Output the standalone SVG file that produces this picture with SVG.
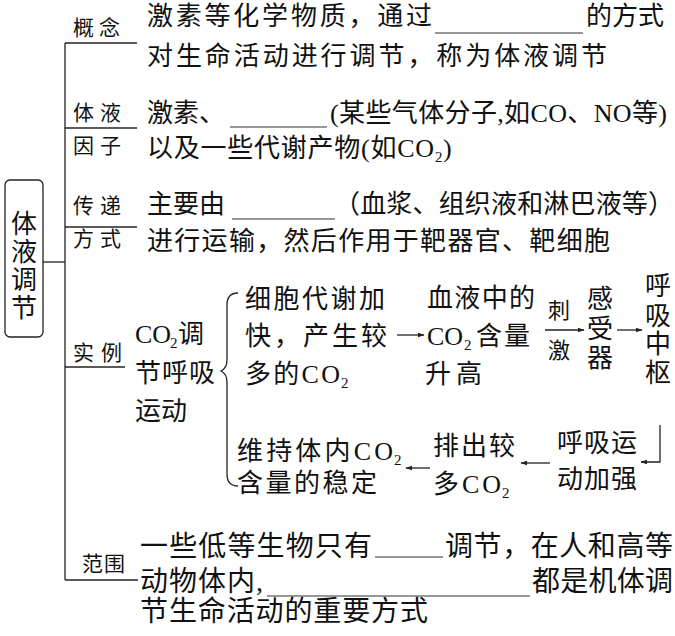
<svg xmlns="http://www.w3.org/2000/svg" width="675" height="636" viewBox="0 0 675 636">
<defs>
<style>
text{font-family:"Liberation Serif","Noto Sans CJK SC",serif;fill:#111;}
.m{font-size:26px;}
.b{font-size:28px;}
.l{font-size:21px;}
.s{font-size:15px;}
.t{font-size:26px;text-anchor:middle;}
.k{font-size:22px;}
.ln{stroke:#222;stroke-width:1.3;fill:none;}
.ar{stroke:#222;stroke-width:1.3;fill:none;marker-end:url(#ah);}
.ul{stroke:#333;stroke-width:1.2;}
</style>
<marker id="ah" viewBox="0 0 10 10" refX="9" refY="5" markerWidth="7" markerHeight="7" markerUnits="userSpaceOnUse" orient="auto">
<path d="M0,1.5 L10,5 L0,8.5 Z" fill="#222"/>
</marker>
</defs>
<rect width="675" height="636" fill="#fff"/>

<g id="connectors">
<rect x="5" y="180" width="38" height="157" rx="5" class="ln"/>
<line x1="43" y1="262" x2="65" y2="262" class="ln"/>
<line x1="65" y1="43" x2="65" y2="580" class="ln"/>
<line x1="65" y1="43" x2="137" y2="43" class="ln"/>
<line x1="65" y1="128" x2="137" y2="128" class="ln"/>
<line x1="65" y1="227" x2="137" y2="227" class="ln"/>
<line x1="65" y1="367" x2="125" y2="367" class="ln"/>
<line x1="65" y1="580" x2="138" y2="580" class="ln"/>
<path d="M238 293 C230 293 227 297 227 305 L227 360 C227 366 225 369 221 371 C225 373 227 376 227 382 L227 474 C227 482 230 486 238 486" class="ln"/>
<line x1="397" y1="335" x2="424" y2="335" class="ar"/>
<line x1="545" y1="330" x2="584" y2="330" class="ar"/>
<line x1="617" y1="330" x2="642" y2="330" class="ar"/>
<line x1="430" y1="468" x2="406" y2="468" class="ar"/>
<line x1="550" y1="463" x2="521" y2="463" class="ar"/>
<polyline points="660,425 660,462 641,462" class="ar"/>
</g>

<g id="root">
<text class="t" x="24" y="233">体</text>
<text class="t" x="24" y="261">液</text>
<text class="t" x="24" y="289">调</text>
<text class="t" x="24" y="317">节</text>
</g>

<g id="gainian">
<text class="l" x="73" y="35" textLength="47">概念</text>
<text class="m" x="147" y="25" textLength="285">激素等化学物质，通过</text>
<line x1="435" y1="33" x2="583" y2="33" class="ul"/>
<text class="m" x="586" y="25">的方式</text>
<text class="m" x="147" y="65" textLength="460">对生命活动进行调节，称为体液调节</text>
</g>

<g id="yinzi">
<text class="l" x="73" y="120" textLength="48">体液</text>
<text class="l" x="73" y="153" textLength="48">因子</text>
<text class="m" x="147" y="122">激素、</text>
<line x1="230" y1="127" x2="327" y2="127" class="ul"/>
<text class="m" x="330" y="122" textLength="337">(某些气体分子,如CO、NO等)</text>
<text class="m" x="147" y="157" textLength="287">以及一些代谢产物(如CO</text>
<text class="s" x="435" y="162">2</text>
<text class="m" x="443" y="157">)</text>
</g>

<g id="chuandi">
<text class="l" x="73" y="213" textLength="48">传递</text>
<text class="l" x="73" y="246" textLength="48">方式</text>
<text class="m" x="147" y="213">主要由</text>
<line x1="232" y1="219" x2="335" y2="219" class="ul"/>
<text class="m" x="334" y="213" textLength="340">（血浆、组织液和淋巴液等）</text>
<text class="m" x="147" y="250" textLength="463">进行运输，然后作用于靶器官、靶细胞</text>
</g>

<g id="shili">
<text class="l" x="73" y="360" textLength="49">实例</text>
<text class="m" x="135" y="343">CO</text>
<text class="s" x="170" y="348">2</text>
<text class="m" x="178" y="343">调</text>
<text class="m" x="135" y="382" textLength="80">节呼吸</text>
<text class="m" x="135" y="420">运动</text>
</g>

<g id="step1">
<text class="m" x="245" y="308" textLength="140">细胞代谢加</text>
<text class="m" x="245" y="345" textLength="142">快，产生较</text>
<text class="m" x="245" y="383" textLength="95">多的CO</text>
<text class="s" x="341" y="388">2</text>
</g>

<g id="step2">
<text class="m" x="427" y="307" textLength="108">血液中的</text>
<text class="m" x="427" y="345">CO</text>
<text class="s" x="464" y="350">2</text>
<text class="m" x="476" y="345" textLength="54">含量</text>
<text class="m" x="425" y="383" textLength="57">升高</text>
</g>

<g id="stim">
<text class="k" x="548" y="318">刺</text>
<text class="k" x="548" y="358">激</text>
</g>

<g id="receptor">
<text class="m" x="587" y="308">感</text>
<text class="m" x="587" y="338">受</text>
<text class="m" x="587" y="367">器</text>
</g>

<g id="center">
<text class="m" x="645" y="295">呼</text>
<text class="m" x="645" y="325">吸</text>
<text class="m" x="645" y="353">中</text>
<text class="m" x="645" y="382">枢</text>
</g>

<g id="step5">
<text class="m" x="557" y="452" textLength="80">呼吸运</text>
<text class="m" x="557" y="488" textLength="80">动加强</text>
</g>

<g id="step6">
<text class="m" x="433" y="455" textLength="82">排出较</text>
<text class="m" x="433" y="493" textLength="68">多CO</text>
<text class="s" x="502" y="498">2</text>
</g>

<g id="step7">
<text class="m" x="237" y="460" textLength="156">维持体内CO</text>
<text class="s" x="394" y="465">2</text>
<text class="m" x="237" y="492" textLength="140">含量的稳定</text>
</g>

<g id="fanwei">
<text class="l" x="82" y="571" textLength="43">范围</text>
<text class="b" x="140" y="556" textLength="232">一些低等生物只有</text>
<line x1="375" y1="557" x2="443" y2="557" class="ul"/>
<text class="b" x="445" y="556" textLength="228">调节，在人和高等</text>
<text class="b" x="140" y="591" textLength="123">动物体内,</text>
<line x1="267" y1="596" x2="530" y2="596" class="ul"/>
<text class="b" x="532" y="591" textLength="141">都是机体调</text>
<text class="b" x="140" y="621" textLength="288">节生命活动的重要方式</text>
</g>
</svg>
